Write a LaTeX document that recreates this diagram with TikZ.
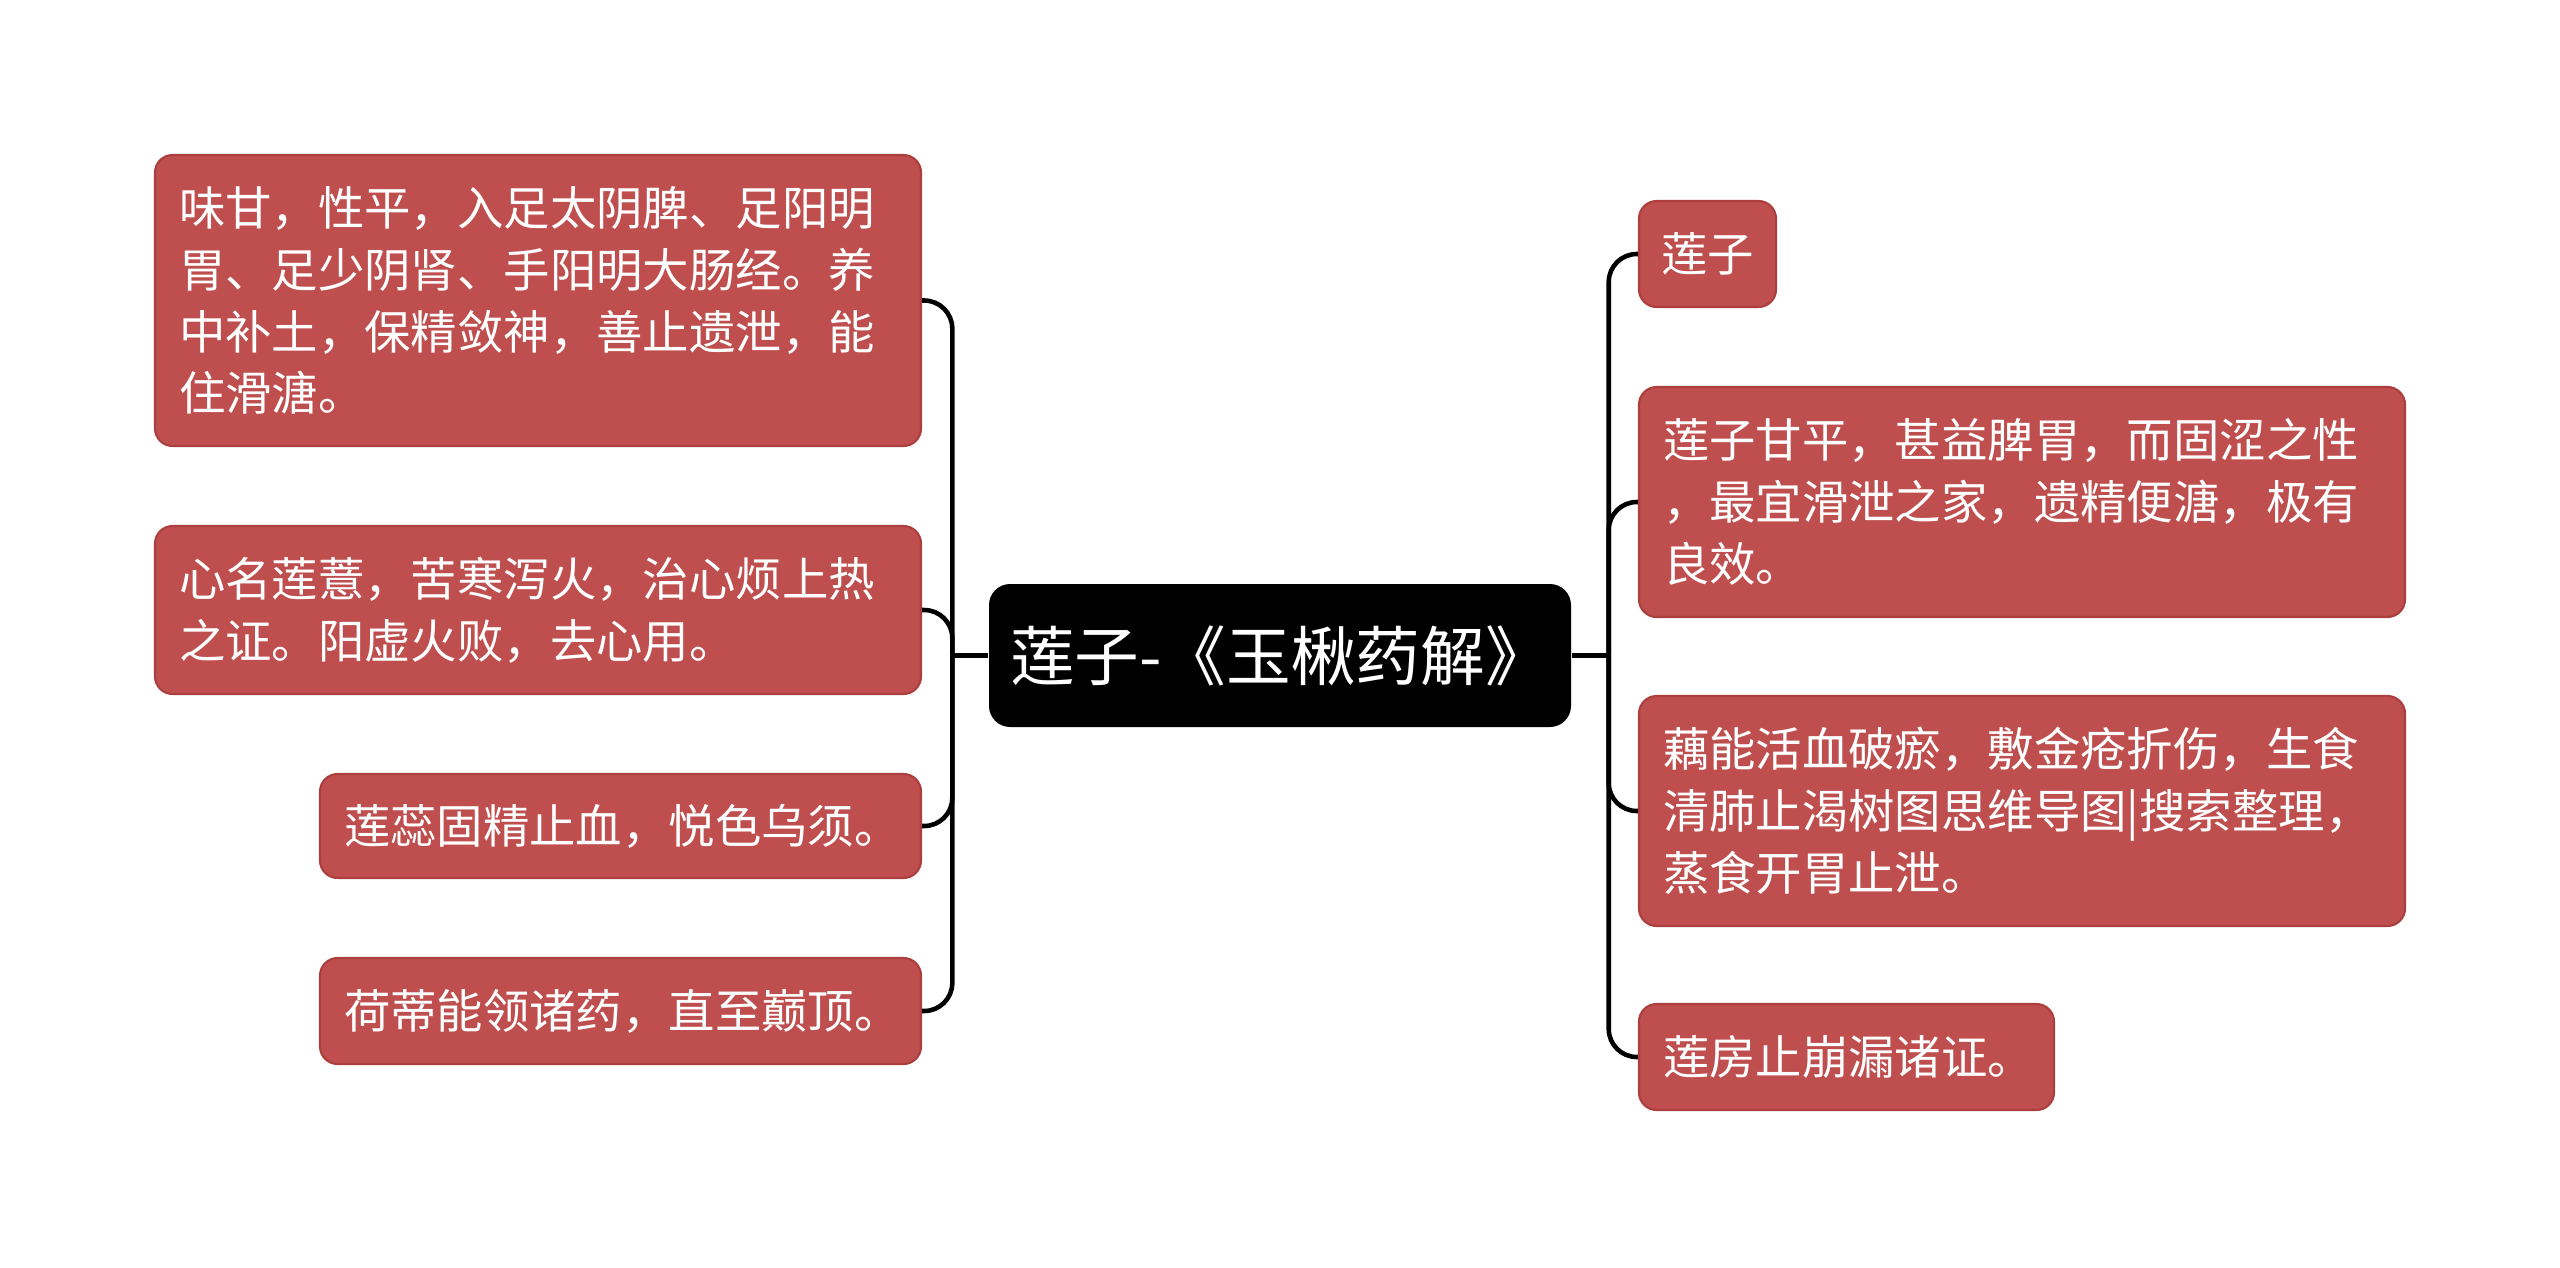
\documentclass[tikz,border=0pt]{standalone}
\usepackage{fontspec}
\setmainfont{Noto Sans CJK SC}
\usetikzlibrary{calc}

\begin{document}
\begin{tikzpicture}
  % Canvas: 1 unit = 100 px of the original, y pointing down
  \useasboundingbox (0,0) rectangle (25.6,-12.67);

  % ==========================================
  % 1. COLORS & STYLES
  % ==========================================
  \definecolor{leafRed}{RGB}{191, 79, 79}   % leaf boxes
  \definecolor{leafEdge}{RGB}{172, 62, 62}  % leaf outline
  \definecolor{rootBlack}{RGB}{0, 0, 0}     % central topic

  \tikzset{
    leafbox/.style={
      fill=leafRed, draw=leafEdge, line width=0.6pt, rounded corners=5pt,
      text=white, align=left, inner xsep=0.24cm, inner ysep=0pt,
      font=\fontsize{13.2pt}{17.6pt}\selectfont
    },
    rootbox/.style={
      fill=rootBlack, rounded corners=6pt, text=white, inner sep=0pt,
      minimum width=5.82cm, minimum height=1.43cm,
      font=\fontsize{18.4pt}{21pt}\selectfont
    },
    branch/.style={black, line width=1.3pt, rounded corners=8pt}
  }

  % ==========================================
  % 2. CENTRAL TOPIC
  % ==========================================
  \node[rootbox] (title) at (12.80, -6.555) {莲子-《玉楸药解》};

  % ==========================================
  % 3. LEFT BRANCHES
  % ==========================================
  \node[leafbox, text width=7.18cm, minimum height=2.91cm] (wei) at (5.38, -3.005)
    {味甘，性平，入足太阴脾、足阳明\\胃、足少阴肾、手阳明大肠经。养\\中补土，保精敛神，善止遗泄，能\\住滑溏。};
  \node[leafbox, text width=7.18cm, minimum height=1.68cm] (xin) at (5.38, -6.10)
    {心名莲薏，苦寒泻火，治心烦上热\\之证。阳虚火败，去心用。};
  \node[leafbox, text width=5.53cm, minimum height=1.04cm] (rui) at (6.205, -8.26)
    {莲蕊固精止血，悦色乌须。};
  \node[leafbox, text width=5.53cm, minimum height=1.06cm] (di) at (6.205, -10.11)
    {荷蒂能领诸药，直至巅顶。};

  % ==========================================
  % 4. RIGHT BRANCHES
  % ==========================================
  \node[leafbox, text width=0.93cm, inner xsep=0.22cm, minimum height=1.06cm] (zi) at (17.075, -2.54)
    {莲子};
  \node[leafbox, text width=7.18cm, minimum height=2.30cm] (gan) at (20.22, -5.02)
    {莲子甘平，甚益脾胃，而固涩之性\\，最宜滑泄之家，遗精便溏，极有\\良效。};
  \node[leafbox, text width=7.18cm, minimum height=2.30cm] (ou) at (20.22, -8.11)
    {藕能活血破瘀，敷金疮折伤，生食\\清肺止渴树图思维导图|搜索整理，\\蒸食开胃止泄。};
  \node[leafbox, text width=3.67cm, minimum height=1.06cm] (fang) at (18.465, -10.57)
    {莲房止崩漏诸证。};

  % ==========================================
  % 5. CONNECTORS
  % ==========================================
  \coordinate (lhub) at ($(title.west)+(-0.36,0)$);
  \coordinate (rhub) at ($(title.east)+(0.37,0)$);

  \draw[branch] (title.west) -- (lhub);
  \draw[branch] (title.east) -- (rhub);

  \foreach \n in {wei, xin, rui, di}
    \draw[branch] (lhub) |- (\n.east);
  \foreach \n in {zi, gan, ou, fang}
    \draw[branch] (rhub) |- (\n.west);

\end{tikzpicture}
\end{document}
